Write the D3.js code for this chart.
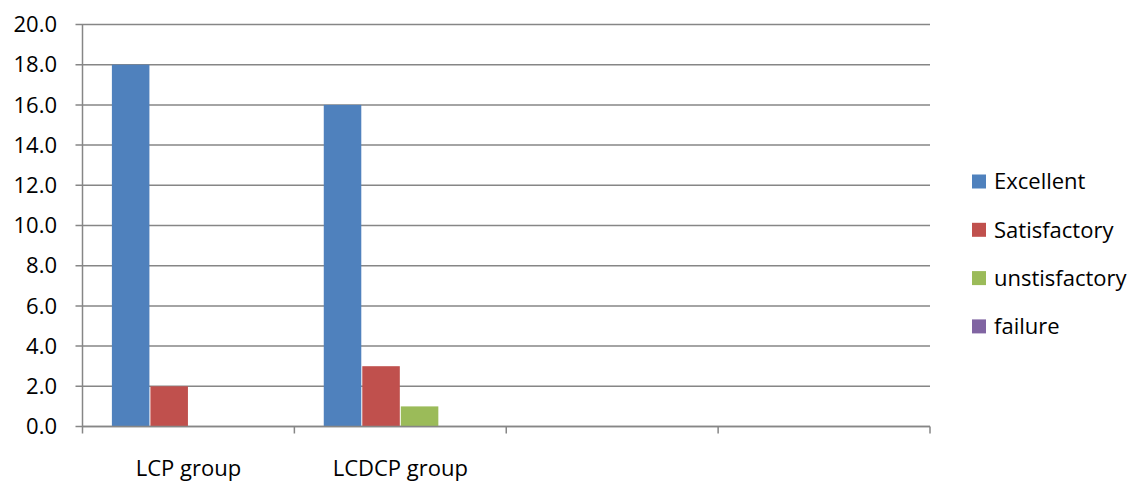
<!DOCTYPE html>
<html>
<head>
<meta charset="utf-8">
<script src="https://cdn.jsdelivr.net/npm/d3@7"></script>
<style>
  body { margin: 0; background: #fff; }
  text { font-family: "Open Sans", sans-serif; fill: #000; }
</style>
</head>
<body>
<div id="chart"></div>
<script>
const categories = ['LCP group', 'LCDCP group', '', ' '];
const seriesNames = ['Excellent', 'Satisfactory', 'unstisfactory', 'failure'];
const seriesColors = ['#4F81BD', '#C0504D', '#9BBB59', '#8064A2'];
// values per category, in series order
const excellent = [18, 16, 0, 0];
const satisfactory = [2, 3, 0, 0];
const unsatisfactory = [0, 1, 0, 0];
const failure = [0, 0, 0, 0];
const yTicks = [0, 2, 4, 6, 8, 10, 12, 14, 16, 18, 20];

const W = 1140, H = 481;
const plot = { left: 82.5, right: 930, top: 24.5, bottom: 426.5 };
const FS = 22;

const seriesValues = [excellent, satisfactory, unsatisfactory, failure];
const rows = [];
categories.forEach((c, ci) => {
  seriesNames.forEach((s, si) => rows.push({ cat: c, series: s, value: seriesValues[si][ci] }));
});

const svg = d3.select('#chart').append('svg')
  .attr('width', W)
  .attr('height', H);

const x0 = d3.scaleBand().domain(categories).range([plot.left, plot.right]).padding(0);
const x1 = d3.scaleBand().domain(seriesNames).range([0, x0.bandwidth()]).paddingInner(0).paddingOuter(0.75);
const y = d3.scaleLinear().domain([0, 20]).range([plot.bottom, plot.top]);
const color = d3.scaleOrdinal().domain(seriesNames).range(seriesColors);

// gridlines + y tick marks
svg.append('g')
  .selectAll('line')
  .data(yTicks)
  .join('line')
  .attr('x1', plot.left - 7)
  .attr('x2', plot.right)
  .attr('y1', d => y(d))
  .attr('y2', d => y(d))
  .attr('stroke', '#868686')
  .attr('stroke-width', 1.5);

// y labels
svg.append('g')
  .selectAll('text')
  .data(yTicks)
  .join('text')
  .attr('x', 57)
  .attr('y', d => y(d))
  .attr('dy', '0.35em')
  .attr('text-anchor', 'end')
  .attr('font-size', FS)
  .text(d => d.toFixed(1));

// bars
svg.append('g')
  .selectAll('rect')
  .data(rows.filter(d => d.value > 0))
  .join('rect')
  .attr('x', d => x0(d.cat) + x1(d.series) + 0.5)
  .attr('width', x1.bandwidth() - 1)
  .attr('y', d => y(d.value))
  .attr('height', d => y(0) - y(d.value))
  .attr('fill', d => color(d.series));

// y axis line
svg.append('line')
  .attr('x1', plot.left).attr('x2', plot.left)
  .attr('y1', plot.top).attr('y2', plot.bottom)
  .attr('stroke', '#868686').attr('stroke-width', 1.5);

// x axis line + ticks
svg.append('line')
  .attr('x1', plot.left).attr('x2', plot.right)
  .attr('y1', plot.bottom).attr('y2', plot.bottom)
  .attr('stroke', '#868686').attr('stroke-width', 1.5);

const xTickPos = categories.map(c => x0(c)).concat([plot.right]);
svg.append('g')
  .selectAll('line')
  .data(xTickPos)
  .join('line')
  .attr('x1', d => d).attr('x2', d => d)
  .attr('y1', plot.bottom).attr('y2', plot.bottom + 7)
  .attr('stroke', '#868686').attr('stroke-width', 1.5);

// x labels
svg.append('g')
  .selectAll('text')
  .data(categories)
  .join('text')
  .attr('x', d => x0(d) + x0.bandwidth() / 2)
  .attr('y', 476)
  .attr('text-anchor', 'middle')
  .attr('font-size', FS)
  .text(d => d.trim());

// legend
const legend = svg.append('g')
  .selectAll('g')
  .data(seriesNames)
  .join('g')
  .attr('transform', (d, i) => `translate(972,${181.5 + i * 48.3})`);

legend.append('rect')
  .attr('x', 0).attr('y', -7)
  .attr('width', 14).attr('height', 14)
  .attr('fill', d => color(d));

legend.append('text')
  .attr('x', 22)
  .attr('dy', '0.35em')
  .attr('font-size', FS)
  .text(d => d);
</script>
</body>
</html>
